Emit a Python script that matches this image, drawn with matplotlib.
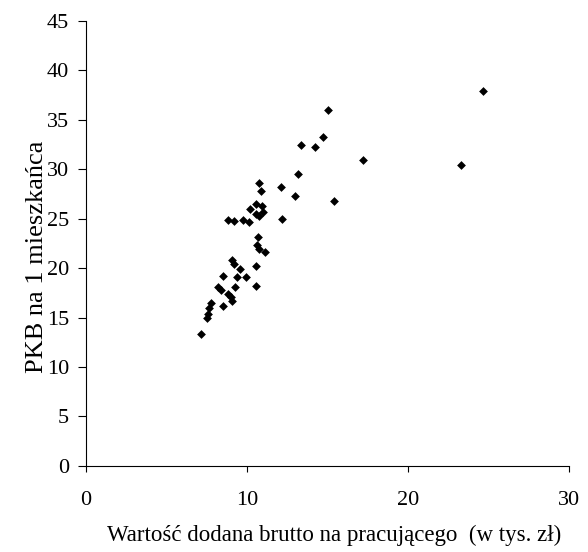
import matplotlib.pyplot as plt

# Values
wdb = [7.16, 7.5, 7.6, 7.66, 7.74, 8.49, 8.22, 8.36, 8.84, 8.99, 9.07, 9.23,
       8.49, 9.4, 9.94, 9.57, 9.1, 9.19, 10.58, 10.56, 10.6, 10.77, 11.12, 10.7,
       8.8, 9.19, 9.77, 10.15, 10.16, 10.56, 10.91, 11.01, 10.76, 10.56, 12.17,
       10.77, 10.87, 12.13, 12.98, 13.15, 15.4, 13.37, 14.2, 14.7, 15.05, 17.19,
       23.3, 24.66]
pkb = [13.3, 15.0, 15.4, 16.0, 16.5, 16.2, 18.1, 17.8, 17.4, 17.1, 16.7, 18.1,
       19.2, 19.15, 19.1, 19.9, 20.8, 20.4, 20.2, 18.2, 22.3, 21.9, 21.6, 23.2,
       24.9, 24.8, 24.9, 24.65, 26.0, 26.5, 26.3, 25.7, 25.3, 25.5, 25.0,
       28.6, 27.8, 28.2, 27.3, 29.5, 26.8, 32.5, 32.3, 33.3, 36.0, 30.9,
       30.4, 37.9]

x_ticks = [0, 10, 20, 30]
y_ticks = [0, 5, 10, 15, 20, 25, 30, 35, 40, 45]

plt.rcParams['font.family'] = ['Liberation Serif', 'DejaVu Serif']

fig = plt.figure(figsize=(5.88, 5.52), dpi=100)
ax = fig.add_axes([0.146, 0.156, 0.822, 0.806])

ax.scatter(wdb, pkb, marker='D', s=20, color='black', linewidths=0)

ax.set_xlim(0, 30)
ax.set_ylim(0, 45)
ax.set_xticks(x_ticks)
ax.set_yticks(y_ticks)
ax.tick_params(labelsize=16, width=0.8, color='black')
ax.tick_params(axis='x', length=4, pad=14)
ax.tick_params(axis='y', length=6, pad=6)
ax.spines['top'].set_visible(False)
ax.spines['right'].set_visible(False)
for s in ('left', 'bottom'):
    ax.spines[s].set_linewidth(0.8)

ax.set_xlabel('Wartość dodana brutto na pracującego  (w tys. zł)', fontsize=16.5)
ax.set_ylabel('PKB na 1 mieszkańca', fontsize=19)
ax.xaxis.set_label_coords(0.513, -0.133)
ax.yaxis.set_label_coords(-0.079, 0.47)

fig.savefig('out.png', dpi=100)
